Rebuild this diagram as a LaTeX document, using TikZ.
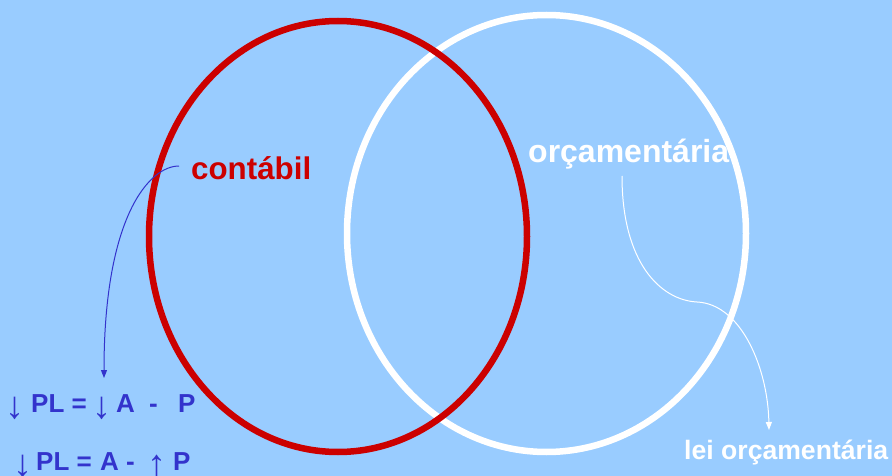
\documentclass[tikz,border=0pt]{standalone}
\usepackage{fontspec}
\setmainfont{Liberation Sans}
\usetikzlibrary{arrows.meta}
\definecolor{bgblue}{HTML}{99CCFF}
\definecolor{redc}{HTML}{CC0000}
\definecolor{formblue}{HTML}{3333CC}
\newcommand{\dnar}{\raisebox{-6pt}{\fontsize{38}{38}\selectfont\mdseries ↓}}
\newcommand{\upar}{\raisebox{-6pt}{\fontsize{38}{38}\selectfont\mdseries ↑}}
\tikzset{
  ring/.style={line width=6.5pt},
  lbl/.style={anchor=base west, inner sep=0pt, font=\bfseries},
  formula/.style={lbl, text=formblue, font=\fontsize{26}{30}\selectfont\bfseries},
  conn/.style={line width=1pt, -{Triangle[length=8pt,width=6pt]}}
}
\begin{document}
\begin{tikzpicture}[x=1pt,y=-1pt]
\fill[bgblue] (0,0) rectangle (892,476);
\useasboundingbox (0,0) rectangle (892,476);
% ellipses
\draw[ring, white] (546.5,233.5) ellipse [x radius=199.5, y radius=218.5];
\draw[ring, redc] (338,236.5) ellipse [x radius=189, y radius=215.5];
% labels
\node[lbl, text=redc, font=\fontsize{31.3}{34}\selectfont\bfseries] (cont) at (191,179) {contábil};
\node[lbl, text=white, font=\fontsize{32}{35}\selectfont\bfseries] (orc) at (528,163) {orçamentária};
\node[lbl, text=white, font=\fontsize{26.6}{30}\selectfont\bfseries] (lei) at (684,459) {lei orçamentária};
% formula line 1
\node[formula] (f1a) at (5,412) {\dnar};
\node[formula] (f1b) at (31,412) {PL};
\node[formula] (f1c) at (71.5,412) {=};
\node[formula] (f1d) at (92,412) {\dnar};
\node[formula] (f1e) at (116,412) {A};
\node[formula] (f1f) at (149,412) {-};
\node[formula] (f1g) at (178,412) {P};
% formula line 2
\node[formula] (f2a) at (13,470) {\dnar};
\node[formula] (f2b) at (36,470) {PL};
\node[formula] (f2c) at (76.5,470) {=};
\node[formula] (f2d) at (100,470) {A};
\node[formula] (f2e) at (126,470) {-};
\node[formula] (f2f) at (147,470) {\upar};
\node[formula] (f2g) at (173,470) {P};
% connectors
\coordinate (cstart) at (179,166);
\coordinate (cend) at (104,378);
\draw[conn, formblue] (cstart) .. controls (150,166) and (104,215) .. (cend);
\coordinate (ostart) at (622,176);
\coordinate (omid) at (697,302);
\coordinate (oend) at (769,430);
\draw[conn, white] (ostart) .. controls (622,262) and (660,300) .. (omid) .. controls (742,304) and (768,370) .. (oend);
\end{tikzpicture}
\end{document}
